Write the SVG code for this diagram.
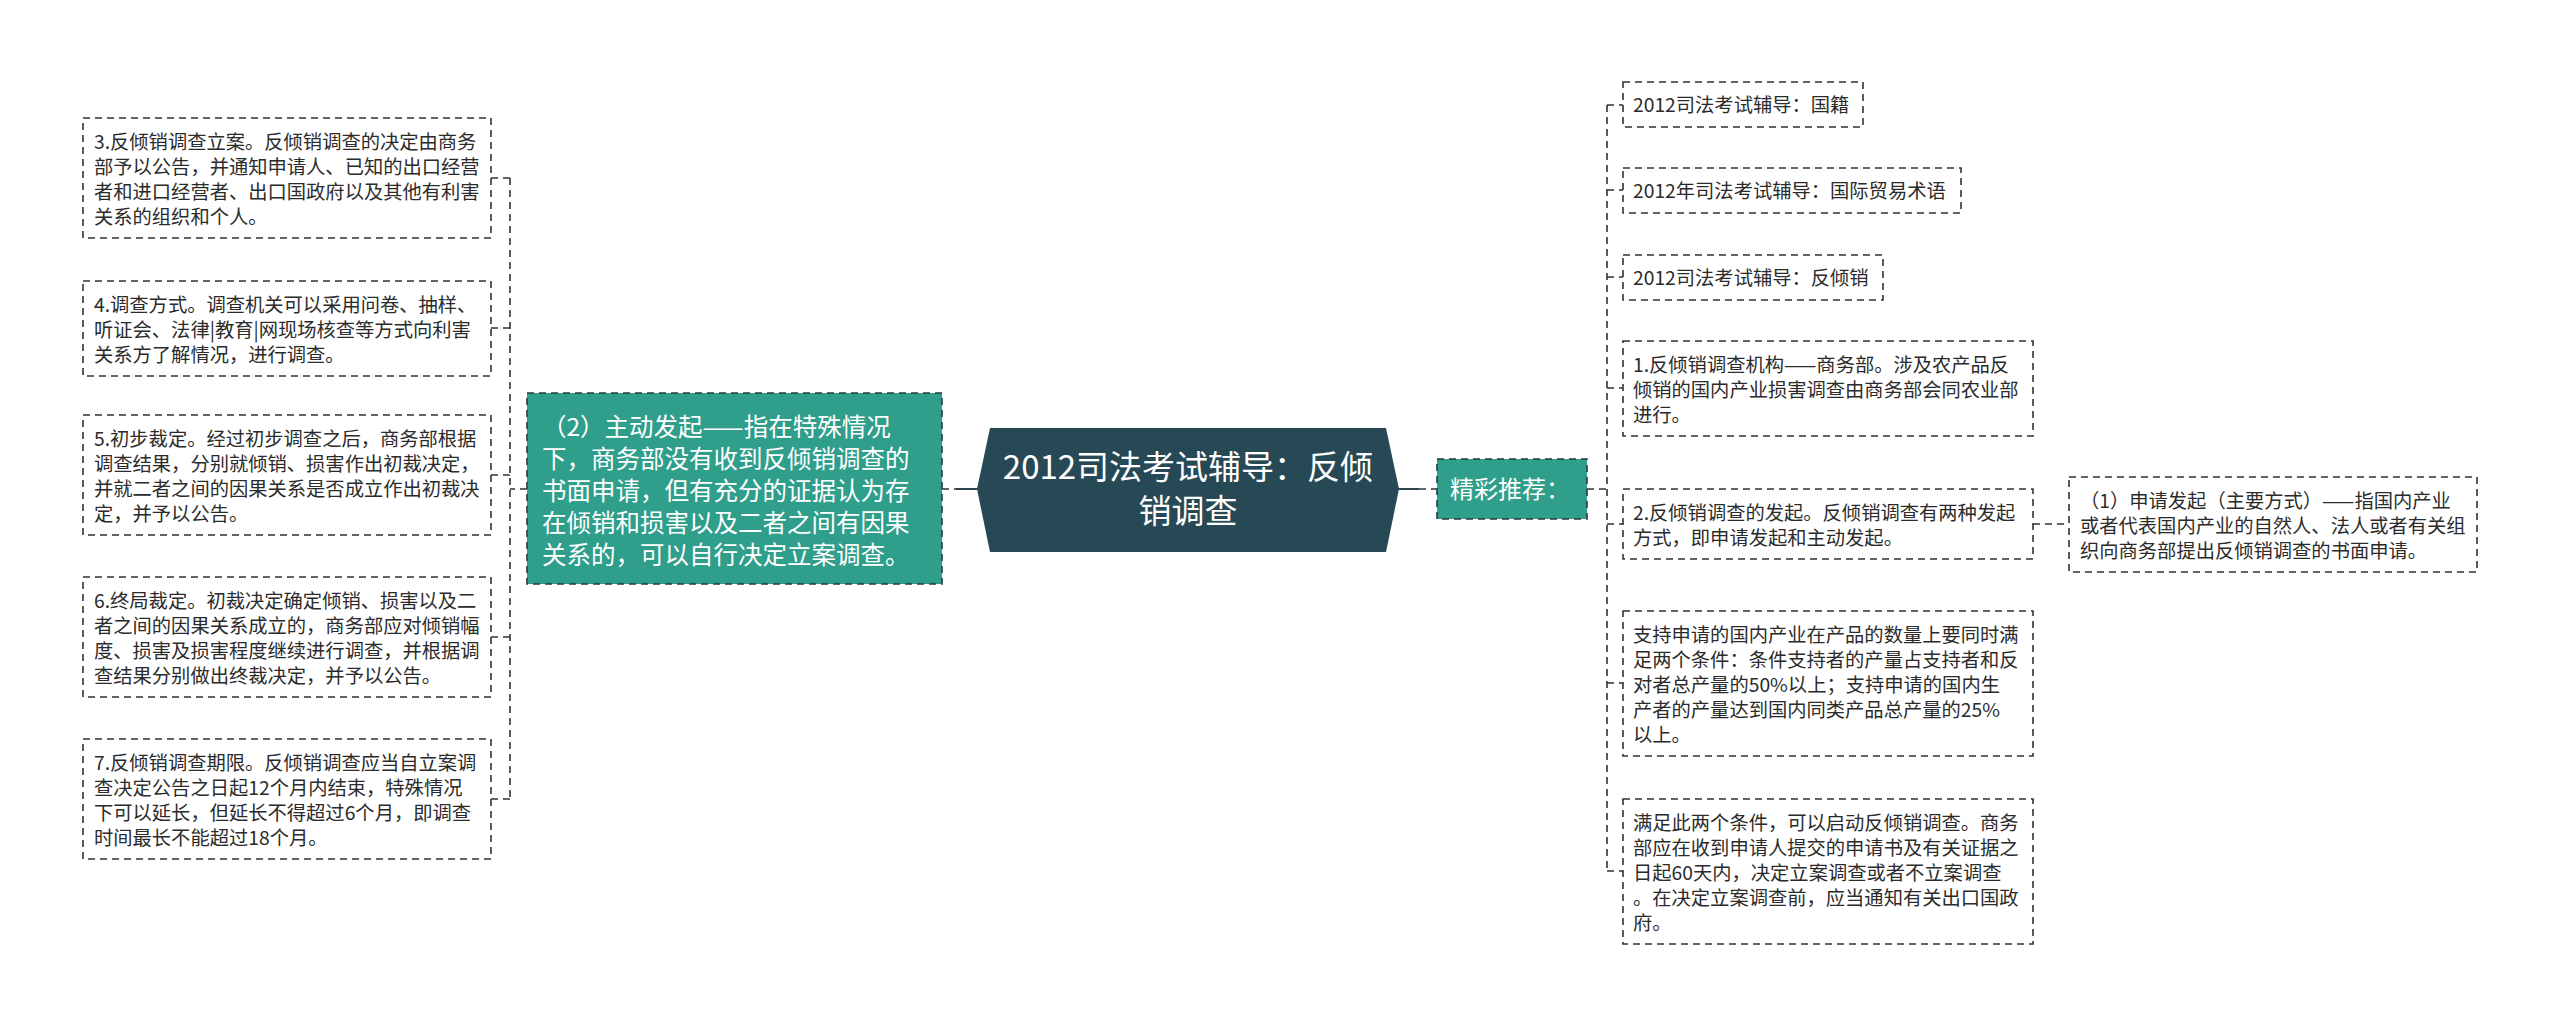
<svg xmlns="http://www.w3.org/2000/svg" width="2560" height="1029" viewBox="0 0 2560 1029">
<style>
.box{fill:#ffffff;stroke:#333333;stroke-width:1.6;stroke-dasharray:7 5}
.teal{fill:#2f9e8b;stroke:#2b3a40;stroke-width:1.6;stroke-dasharray:7 5}
.t{font-family:"Noto Sans CJK SC","Liberation Sans",sans-serif;font-size:19.3px;fill:#2b2b2b}
.tw{font-family:"Noto Sans CJK SC","Liberation Sans",sans-serif;fill:#ffffff}
.conn{fill:none;stroke:#333333;stroke-width:1.6;stroke-dasharray:7 5}
.solid{fill:none;stroke:#2b4450;stroke-width:2}
</style>
<rect width="2560" height="1029" fill="#ffffff"/>
<g id="connectors">
<path class="conn" d="M527,489 H510"/>
<path class="conn" d="M510,178 V799"/>
<path class="conn" d="M491,178 H510"/>
<path class="conn" d="M491,328 H510"/>
<path class="conn" d="M491,475 H510"/>
<path class="conn" d="M491,637 H510"/>
<path class="conn" d="M491,799 H510"/>
<path class="conn" d="M942,489 H956"/>
<path class="solid" d="M956,489 H977"/>
<path class="solid" d="M1398,489 H1419"/>
<path class="conn" d="M1419,489 H1437"/>
<path class="conn" d="M1587,489 H1607"/>
<path class="conn" d="M1607,105 V871"/>
<path class="conn" d="M1607,105 H1623"/>
<path class="conn" d="M1607,190 H1623"/>
<path class="conn" d="M1607,277 H1623"/>
<path class="conn" d="M1607,388 H1623"/>
<path class="conn" d="M1607,524 H1623"/>
<path class="conn" d="M1607,683 H1623"/>
<path class="conn" d="M1607,871 H1623"/>
<path class="conn" d="M2033,524 H2069"/>
</g>
<g id="root">
<polygon points="977,489 990,428 1386,428 1399,489 1386,552 990,552" fill="#274955"/>
<text class="tw" font-size="33" text-anchor="middle"><tspan x="1188" y="479">2012司法考试辅导：反倾</tspan><tspan x="1188" y="523">销调查</tspan></text>
</g>
<g id="n-active">
<rect class="teal" x="527" y="393" width="415" height="191"/>
<text class="tw" font-size="24.5"><tspan x="542" y="436">（2）主动发起——指在特殊情况</tspan><tspan x="542" y="468">下，商务部没有收到反倾销调查的</tspan><tspan x="542" y="500">书面申请，但有充分的证据认为存</tspan><tspan x="542" y="532">在倾销和损害以及二者之间有因果</tspan><tspan x="542" y="564">关系的，可以自行决定立案调查。</tspan></text>
</g>
<g id="n3">
<rect class="box" x="83" y="118" width="408" height="120"/>
<text class="t"><tspan x="94" y="149">3.反倾销调查立案。反倾销调查的决定由商务</tspan><tspan x="94" y="174">部予以公告，并通知申请人、已知的出口经营</tspan><tspan x="94" y="199">者和进口经营者、出口国政府以及其他有利害</tspan><tspan x="94" y="224">关系的组织和个人。</tspan></text>
</g>
<g id="n4">
<rect class="box" x="83" y="281" width="408" height="95"/>
<text class="t"><tspan x="94" y="312">4.调查方式。调查机关可以采用问卷、抽样、</tspan><tspan x="94" y="337">听证会、法律|教育|网现场核查等方式向利害</tspan><tspan x="94" y="362">关系方了解情况，进行调查。</tspan></text>
</g>
<g id="n5">
<rect class="box" x="83" y="415" width="408" height="120"/>
<text class="t"><tspan x="94" y="446">5.初步裁定。经过初步调查之后，商务部根据</tspan><tspan x="94" y="471">调查结果，分别就倾销、损害作出初裁决定，</tspan><tspan x="94" y="496">并就二者之间的因果关系是否成立作出初裁决</tspan><tspan x="94" y="521">定，并予以公告。</tspan></text>
</g>
<g id="n6">
<rect class="box" x="83" y="577" width="408" height="120"/>
<text class="t"><tspan x="94" y="608">6.终局裁定。初裁决定确定倾销、损害以及二</tspan><tspan x="94" y="633">者之间的因果关系成立的，商务部应对倾销幅</tspan><tspan x="94" y="658">度、损害及损害程度继续进行调查，并根据调</tspan><tspan x="94" y="683">查结果分别做出终裁决定，并予以公告。</tspan></text>
</g>
<g id="n7">
<rect class="box" x="83" y="739" width="408" height="120"/>
<text class="t"><tspan x="94" y="770">7.反倾销调查期限。反倾销调查应当自立案调</tspan><tspan x="94" y="795">查决定公告之日起12个月内结束，特殊情况</tspan><tspan x="94" y="820">下可以延长，但延长不得超过6个月，即调查</tspan><tspan x="94" y="845">时间最长不能超过18个月。</tspan></text>
</g>
<g id="n-recommend">
<rect class="teal" x="1437" y="459" width="150" height="60"/>
<text class="tw" font-size="24" x="1450" y="498">精彩推荐：</text>
</g>
<g id="r1">
<rect class="box" x="1623" y="82" width="240" height="45"/>
<text class="t" x="1633" y="112">2012司法考试辅导：国籍</text>
</g>
<g id="r2">
<rect class="box" x="1623" y="168" width="338" height="45"/>
<text class="t" x="1633" y="198">2012年司法考试辅导：国际贸易术语</text>
</g>
<g id="r3">
<rect class="box" x="1623" y="255" width="260" height="45"/>
<text class="t" x="1633" y="285">2012司法考试辅导：反倾销</text>
</g>
<g id="r4">
<rect class="box" x="1623" y="341" width="410" height="95"/>
<text class="t"><tspan x="1633" y="372">1.反倾销调查机构——商务部。涉及农产品反</tspan><tspan x="1633" y="397">倾销的国内产业损害调查由商务部会同农业部</tspan><tspan x="1633" y="422">进行。</tspan></text>
</g>
<g id="r5">
<rect class="box" x="1623" y="489" width="410" height="70"/>
<text class="t"><tspan x="1633" y="520">2.反倾销调查的发起。反倾销调查有两种发起</tspan><tspan x="1633" y="545">方式，即申请发起和主动发起。</tspan></text>
</g>
<g id="r6">
<rect class="box" x="1623" y="611" width="410" height="145"/>
<text class="t"><tspan x="1633" y="642">支持申请的国内产业在产品的数量上要同时满</tspan><tspan x="1633" y="667">足两个条件：条件支持者的产量占支持者和反</tspan><tspan x="1633" y="692">对者总产量的50%以上；支持申请的国内生</tspan><tspan x="1633" y="717">产者的产量达到国内同类产品总产量的25%</tspan><tspan x="1633" y="742">以上。</tspan></text>
</g>
<g id="r7">
<rect class="box" x="1623" y="799" width="410" height="145"/>
<text class="t"><tspan x="1633" y="830">满足此两个条件，可以启动反倾销调查。商务</tspan><tspan x="1633" y="855">部应在收到申请人提交的申请书及有关证据之</tspan><tspan x="1633" y="880">日起60天内，决定立案调查或者不立案调查</tspan><tspan x="1633" y="905">。在决定立案调查前，应当通知有关出口国政</tspan><tspan x="1633" y="930">府。</tspan></text>
</g>
<g id="r8">
<rect class="box" x="2069" y="477" width="408" height="95"/>
<text class="t"><tspan x="2080" y="508">（1）申请发起（主要方式）——指国内产业</tspan><tspan x="2080" y="533">或者代表国内产业的自然人、法人或者有关组</tspan><tspan x="2080" y="558">织向商务部提出反倾销调查的书面申请。</tspan></text>
</g>
</svg>
